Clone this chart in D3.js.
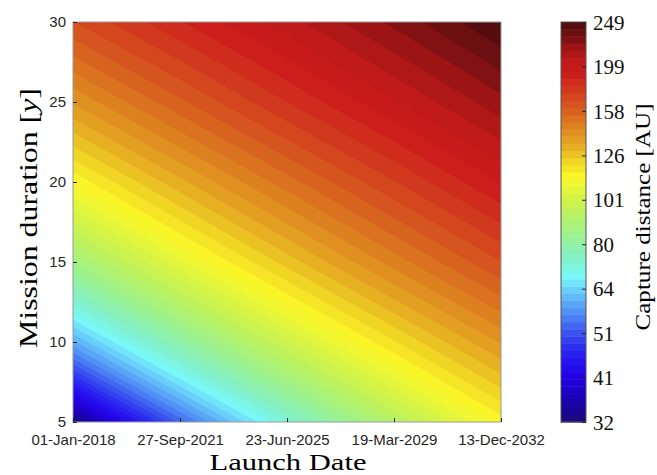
<!DOCTYPE html>
<html>
<head>
<meta charset="utf-8">
<script src="https://cdn.jsdelivr.net/npm/d3@7"></script>
<style>
  body { margin: 0; background: #fff; }
</style>
</head>
<body>
<div id="chart"></div>
<script>
// ─── data ───────────────────────────────────────────────────────────────────
// grid columns: launch dates (also the x tick dates)
const launchDates = ["2018-01-01", "2021-09-27", "2025-06-23", "2029-03-19", "2032-12-13"];
// grid rows: mission duration [y] (also the y ticks)
const durations = [5, 10, 15, 20, 25, 30];
// capture distance [AU], one row per duration, one value per launch date
const dist05 = [32, 52, 72, 92, 113];
const dist10 = [59, 79, 99, 119, 139];
const dist15 = [86, 106, 126, 146, 166];
const dist20 = [112, 132, 152, 172, 193];
const dist25 = [139, 159, 179, 199, 220];
const dist30 = [166, 185, 204, 225, 249];
const distRows = [dist05, dist10, dist15, dist20, dist25, dist30];

// colorbar tick labels (log spaced)
const cbarLabels = ["32", "41", "51", "64", "80", "101", "126", "158", "199", "249"];
const nLevels = 56;

// colormap anchors (0 = bottom of colorbar, 1 = top)
const cmapPos = [0, 0.06, 0.111, 0.15, 0.19, 0.23, 0.29, 0.335, 0.365, 0.41, 0.46, 0.52, 0.565, 0.61, 0.645,
                 0.69, 0.73, 0.775, 0.82, 0.87, 0.905, 0.935, 0.965, 1];
const cmapCol = ["#1a0a78", "#1c02b4", "#2200e4", "#2612f0", "#2e30f0", "#3c5af0", "#58a0f6", "#6cd4fa", "#7af8f8",
                 "#82f0c8", "#98f296", "#b8f262", "#d8f444", "#fafa2a", "#f2dc24",
                 "#e6ac22", "#de8a20", "#d8641f", "#d2401e", "#cc1c1c", "#c01a1a", "#a01414", "#741012", "#4c0a0c"];

// ─── layout ─────────────────────────────────────────────────────────────────
const W = 657, H = 475;
const plot = { left: 73, right: 501, top: 22, bottom: 422 };
const cbar = { left: 561, right: 586, top: 22, bottom: 422 };

const svg = d3.select("#chart").append("svg")
  .attr("width", W).attr("height", H)
  .style("font-family", "'Liberation Sans', Arial, sans-serif");

const parse = d3.timeParse("%Y-%m-%d");
const dates = launchDates.map(parse);

const x = d3.scaleTime()
  .domain([dates[0], dates[dates.length - 1]])
  .range([plot.left, plot.right]);
const y = d3.scaleLinear()
  .domain([durations[0], durations[durations.length - 1]])
  .range([plot.bottom, plot.top]);

const vmin = d3.min(distRows, r => d3.min(r));
const vmax = d3.max(distRows, r => d3.max(r));
const cmap = d3.scaleLinear().domain(cmapPos).range(cmapCol).clamp(true);
const levels = d3.range(nLevels + 1).map(k => vmin * Math.pow(vmax / vmin, k / nLevels));

// ─── filled contours ────────────────────────────────────────────────────────
const nx = launchDates.length, ny = durations.length;
const values = distRows.flat();
const contours = d3.contours()
  .size([nx, ny])
  .thresholds(levels.slice(0, -1))(values);

// grid coordinate -> pixel (grid value i sits at coordinate i + 0.5)
const colStep = x(dates[1]) - x(dates[0]);
const gx = c => x(dates[0]) + (c - 0.5) * colStep;
const gy = c => y(durations[0] + (c - 0.5) * (durations[1] - durations[0]));
const path = d3.geoPath(d3.geoTransform({
  point(px, py) { this.stream.point(gx(px), gy(py)); }
}));

svg.append("clipPath").attr("id", "clip-plot")
  .append("rect")
    .attr("x", plot.left).attr("y", plot.top)
    .attr("width", plot.right - plot.left)
    .attr("height", plot.bottom - plot.top);

svg.append("g")
  .attr("clip-path", "url(#clip-plot)")
  .selectAll("path")
  .data(contours)
  .join("path")
    .attr("d", path)
    .attr("fill", (d, i) => cmap((i + 0.5) / nLevels))
    .attr("stroke", (d, i) => cmap((i + 0.5) / nLevels))
    .attr("stroke-width", 0.6);

// box
svg.append("rect")
  .attr("x", plot.left).attr("y", plot.top)
  .attr("width", plot.right - plot.left)
  .attr("height", plot.bottom - plot.top)
  .attr("fill", "none")
  .attr("stroke", "#9a9a9a")
  .attr("stroke-width", 1);

// ─── axes ───────────────────────────────────────────────────────────────────
const yAxis = svg.append("g")
  .attr("transform", `translate(${plot.left},0)`)
  .call(d3.axisLeft(y).tickValues(durations).tickSize(-4).tickPadding(7));
const xAxis = svg.append("g")
  .attr("transform", `translate(0,${plot.bottom})`)
  .call(d3.axisBottom(x).tickValues(dates)
    .tickFormat(d3.timeFormat("%d-%b-%Y")).tickSize(-4).tickPadding(12));

[xAxis, yAxis].forEach(g => {
  g.select(".domain").remove();
  g.selectAll(".tick line").attr("stroke", "#262626");
  g.selectAll("text")
    .attr("fill", "#262626")
    .style("font-family", "'Liberation Sans', Arial, sans-serif")
    .style("font-size", "15px");
});

// axis titles
svg.append("text")
  .attr("x", (plot.left + plot.right) / 2 + 1)
  .attr("y", 470)
  .attr("text-anchor", "middle")
  .attr("textLength", 157)
  .attr("lengthAdjust", "spacingAndGlyphs")
  .style("font-family", "'Liberation Serif', serif")
  .style("font-size", "24px")
  .text("Launch Date");

const yTitle = svg.append("text")
  .attr("transform", `translate(37,218) rotate(-90)`)
  .attr("text-anchor", "middle")
  .attr("textLength", 260)
  .attr("lengthAdjust", "spacingAndGlyphs")
  .style("font-family", "'Liberation Serif', serif")
  .style("font-size", "26px");
yTitle.append("tspan").text("Mission duration [");
yTitle.append("tspan").style("font-style", "italic").text("y");
yTitle.append("tspan").text("]");

// ─── colorbar ───────────────────────────────────────────────────────────────
const yC = d3.scaleLog().domain([vmin, vmax]).range([cbar.bottom, cbar.top]);

svg.append("g")
  .selectAll("rect")
  .data(d3.range(nLevels))
  .join("rect")
    .attr("x", cbar.left)
    .attr("width", cbar.right - cbar.left)
    .attr("y", k => yC(levels[k + 1]))
    .attr("height", k => yC(levels[k]) - yC(levels[k + 1]) + 0.5)
    .attr("fill", k => cmap((k + 0.5) / nLevels));

svg.append("rect")
  .attr("x", cbar.left).attr("y", cbar.top)
  .attr("width", cbar.right - cbar.left)
  .attr("height", cbar.bottom - cbar.top)
  .attr("fill", "none")
  .attr("stroke", "#555")
  .attr("stroke-width", 1);

const cbarTickVals = cbarLabels.map((t, i) => vmin * Math.pow(vmax / vmin, i / (cbarLabels.length - 1)));
const cAxis = svg.append("g")
  .attr("transform", `translate(${cbar.right},0)`)
  .call(d3.axisRight(yC).tickValues(cbarTickVals)
    .tickFormat((d, i) => cbarLabels[i]).tickSize(-4).tickPadding(7));
cAxis.select(".domain").remove();
cAxis.selectAll(".tick line").attr("stroke", "#262626");
cAxis.selectAll("text")
  .attr("fill", "#111")
  .attr("dy", "0.34em")
  .style("font-family", "'Liberation Serif', serif")
  .style("font-size", "21px");

svg.append("text")
  .attr("transform", `translate(650,217) rotate(-90)`)
  .attr("text-anchor", "middle")
  .attr("textLength", 227)
  .attr("lengthAdjust", "spacingAndGlyphs")
  .style("font-family", "'Liberation Serif', serif")
  .style("font-size", "20px")
  .text("Capture distance [AU]");
</script>
</body>
</html>
